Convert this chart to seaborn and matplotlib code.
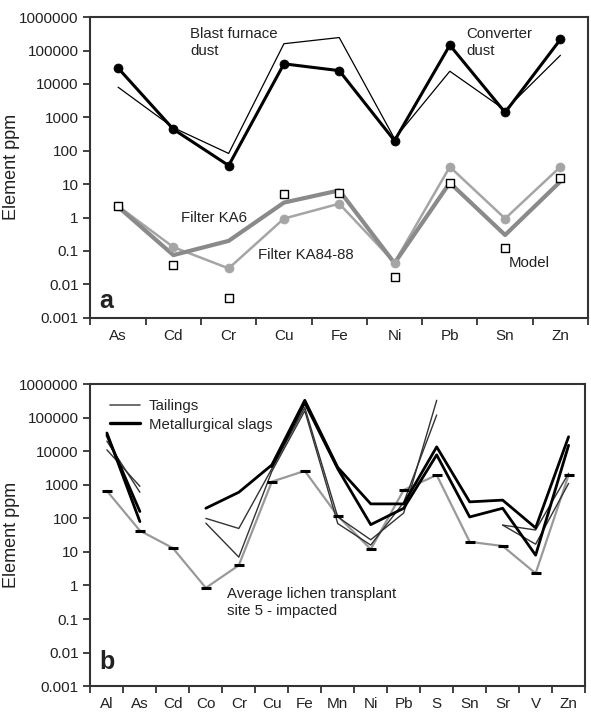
import numpy as np
import pandas as pd
import seaborn as sns
import matplotlib.pyplot as plt
from matplotlib.ticker import FixedLocator, FuncFormatter, NullLocator
from matplotlib.lines import Line2D

sns.set_style('ticks')
plt.rcParams['font.family'] = ['Liberation Sans', 'DejaVu Sans']

nan = np.nan

# panel a
elements_a = ['As', 'Cd', 'Cr', 'Cu', 'Fe', 'Ni', 'Pb', 'Sn', 'Zn']
converter_dust = [30000, 440, 36, 40000, 25000, 200, 145000, 1400, 215000]
blast_furnace_dust = [8000, 490, 83, 160000, 245000, 230, 24000, 1650, 72000]
filter_ka6 = [2.1, 0.075, 0.2, 2.8, 6.5, 0.043, 11, 0.3, 12]
filter_ka84_88 = [2.2, 0.13, 0.03, 0.93, 2.6, 0.045, 33, 0.93, 33]
model = [2.2, 0.037, 0.004, 5, 5.5, 0.017, 11, 0.12, 15.5]

# panel b
elements_b = ['Al', 'As', 'Cd', 'Co', 'Cr', 'Cu', 'Fe', 'Mn', 'Ni', 'Pb', 'S', 'Sn', 'Sr', 'V', 'Zn']
lichen_site5 = [660, 43, 13, 0.85, 4, 1240, 2600, 118, 12, 700, 1950, 20, 15, 2.3, 1950]
slag_1 = [35000, 80, nan, 200, 600, 3900, 330000, 3300, 270, 270, 13500, 310, 350, 52, 27000]
slag_2 = [30000, 160, nan, nan, nan, 3500, 280000, 3000, 65, 200, 7800, 110, 200, 8, 15000]
tailings_1 = [11000, 900, nan, 100, 50, 3000, 200000, 110, 23, 145, 330000, nan, nan, nan, nan]
tailings_2 = [20000, 600, nan, 72, 7, 2500, 160000, 70, 16, 300, 120000, nan, nan, nan, nan]
tailings_3 = [nan, nan, nan, nan, nan, nan, nan, nan, nan, nan, nan, nan, 63, 45, 2200]
tailings_4 = [nan, nan, nan, nan, nan, nan, nan, nan, nan, nan, nan, nan, 63, 17, 1100]


def segments(values):
    # split a series at its gaps so each piece is drawn on its own
    s = pd.Series(values, dtype=float)
    grp = s.isna().cumsum()
    for _, part in s[s.notna()].groupby(grp[s.notna()]):
        if len(part) > 1:
            yield part.index.values, part.values


def draw(ax, values, **kw):
    for xs, ys in segments(values):
        sns.lineplot(x=xs, y=ys, ax=ax, sort=False, estimator=None,
                     legend=False, **kw)


def plain(v, pos):
    if v >= 1:
        return f'{v:.0f}'
    return f'{v:.{int(round(-np.log10(v)))}f}'


def style_axes(ax, names):
    n = len(names)
    ax.set_yscale('log')
    ax.set_ylim(0.001, 1000000)
    ax.set_xlim(-0.5, n - 0.5)
    ax.yaxis.set_major_locator(FixedLocator([10.0 ** k for k in range(-3, 7)]))
    ax.yaxis.set_minor_locator(NullLocator())
    ax.yaxis.set_major_formatter(FuncFormatter(plain))
    ax.xaxis.set_major_locator(FixedLocator(np.arange(n + 1) - 0.5))
    ax.xaxis.set_major_formatter(FuncFormatter(lambda v, p: ''))
    ax.xaxis.set_minor_locator(FixedLocator(np.arange(n)))
    ax.set_xticklabels(names, minor=True)
    ax.tick_params(axis='x', which='minor', length=0, pad=8, labelsize=11, colors='#222222')
    ax.tick_params(axis='x', which='major', length=5, width=1.3, color='#333333')
    ax.tick_params(axis='y', length=5, width=1.3, color='#333333', labelsize=11,
                   labelcolor='#222222')
    for sp in ax.spines.values():
        sp.set_linewidth(1.5)
        sp.set_color('#333333')
    ax.set_ylabel('Element ppm', fontsize=13, color='#222222')
    ax.yaxis.set_label_coords(-0.142, 0.5)


fig = plt.figure(figsize=(5.91, 7.14), dpi=100)
ax_a = fig.add_axes([0.153, 0.555, 0.842, 0.421])
ax_b = fig.add_axes([0.153, 0.039, 0.837, 0.423])

# ---- panel a
xa = np.arange(len(elements_a))
draw(ax_a, blast_furnace_dust, color='black', linewidth=0.9)
draw(ax_a, converter_dust, color='black', linewidth=2.2)
sns.scatterplot(x=xa, y=converter_dust, ax=ax_a, color='black', s=42, edgecolor='black', zorder=5)
draw(ax_a, filter_ka84_88, color='#a5a5a5', linewidth=1.8)
sns.scatterplot(x=xa, y=filter_ka84_88, ax=ax_a, color='#a5a5a5', s=42, edgecolor='#a5a5a5', zorder=5)
draw(ax_a, filter_ka6, color='#8a8a8a', linewidth=3.0)
sns.scatterplot(x=xa, y=model, ax=ax_a, marker='s', s=34, facecolor='white',
                edgecolor='black', linewidth=1.0, zorder=6)
style_axes(ax_a, elements_a)

tk = dict(transform=ax_a.transAxes, fontsize=10.8, color='#222222')
ax_a.text(0.2, 0.968, 'Blast furnace\ndust', va='top', ha='left', linespacing=1.3, **tk)
ax_a.text(0.755, 0.968, 'Converter\ndust', va='top', ha='left', linespacing=1.3, **tk)
ax_a.text(0.183, 0.333, 'Filter KA6', va='center', ha='left', **tk)
ax_a.text(0.337, 0.209, 'Filter KA84-88', va='center', ha='left', **tk)
ax_a.text(0.841, 0.183, 'Model', va='center', ha='left', **tk)
ax_a.text(0.018, 0.055, 'a', va='center', ha='left', transform=ax_a.transAxes,
          fontsize=18, fontweight='bold', color='#222222')

# ---- panel b
xb = np.arange(len(elements_b))
draw(ax_b, lichen_site5, color='#999999', linewidth=1.6)
sns.scatterplot(x=xb, y=lichen_site5, ax=ax_b, marker='_', s=45, color='black',
                linewidth=2.2, zorder=5)
for t in (tailings_1, tailings_2, tailings_3, tailings_4):
    draw(ax_b, t, color='#333333', linewidth=1.0)
for s_ in (slag_1, slag_2):
    draw(ax_b, s_, color='black', linewidth=2.0)
style_axes(ax_b, elements_b)

handles = [Line2D([], [], color='#555555', linewidth=1.2),
           Line2D([], [], color='black', linewidth=2.4)]
ax_b.legend(handles, ['Tailings', 'Metallurgical slags'], loc='upper left',
            bbox_to_anchor=(0.012, 0.995), frameon=False, fontsize=10.8,
            handlelength=2.0, handletextpad=0.6, labelspacing=0.3)
ax_b.text(0.276, 0.328, 'Average lichen transplant\nsite 5 - impacted', va='top',
          ha='left', transform=ax_b.transAxes, fontsize=10.8, color='#222222',
          linespacing=1.3)
ax_b.text(0.018, 0.08, 'b', va='center', ha='left', transform=ax_b.transAxes,
          fontsize=18, fontweight='bold', color='#222222')

fig.savefig('out.png', dpi=100)
